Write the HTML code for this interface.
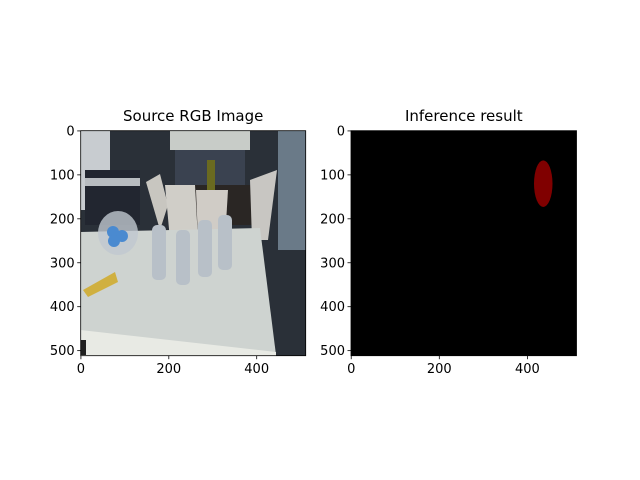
<!DOCTYPE html>
<html><head><meta charset="utf-8"><style>
body{margin:0;background:#fff;}
svg{display:block;font-family:"DejaVu Sans","Liberation Sans",sans-serif;}
</style></head><body>
<svg id="fig" width="640" height="480" viewBox="0 0 640 480">
<rect width="640" height="480" fill="#fff"/>
<g id="left">
 <clipPath id="cl"><rect x="80.7" y="130.7" width="225" height="225"/></clipPath>
 <g clip-path="url(#cl)">
  <rect x="80" y="130" width="227" height="227" fill="#2a3038"/>
  <rect x="80" y="130" width="30" height="80" fill="#c8ccd0"/>
  <rect x="85" y="170" width="55" height="55" fill="#222630"/>
  <rect x="85" y="178" width="55" height="8" fill="#b8bcc0"/>
  <rect x="170" y="130" width="80" height="20" fill="#c8ccc8"/>
  <rect x="175" y="150" width="70" height="40" fill="#3a4250"/>
  <rect x="170" y="185" width="95" height="40" fill="#2a2624"/>
  <polygon points="146,182 160,174 168,205 160,230" fill="#c8c6c0"/>
  <polygon points="165,185 195,185 198,240 170,240" fill="#d0cec8"/>
  <polygon points="196,190 228,190 225,240 198,240" fill="#d0ccc6"/>
  <polygon points="250,180 277,170 268,240 252,240" fill="#c8c6c2"/>
  <rect x="207" y="160" width="8" height="30" fill="#6a6a20"/>
  <rect x="278" y="130" width="30" height="120" fill="#6a7a88"/>
  <polygon points="80,232 260,228 276,355 80,355" fill="#ced3d0"/>
  <polygon points="80,330 276,352 276,357 80,357" fill="#e8eae4"/>
  <rect x="80" y="340" width="6" height="15" fill="#202020"/>
  <ellipse cx="118" cy="233" rx="20" ry="22" fill="#c0c8d0" opacity="0.8"/>
  <circle cx="113" cy="232" r="6" fill="#4a8ad0"/>
  <circle cx="122" cy="236" r="6" fill="#4a8ad0"/>
  <circle cx="114" cy="241" r="6" fill="#4a8ad0"/>
  <polygon points="83,290 115,272 118,282 88,297" fill="#d0b040"/>
  <rect x="152" y="225" width="14" height="55" rx="5" fill="#b8c0c8"/>
  <rect x="176" y="230" width="14" height="55" rx="5" fill="#b8c0c8"/>
  <rect x="198" y="220" width="14" height="57" rx="5" fill="#b8c0c8"/>
  <rect x="218" y="215" width="14" height="55" rx="5" fill="#b8c0c8"/>
 </g>
 <rect x="80.7" y="130.7" width="225" height="225" fill="none" stroke="#000" stroke-width="0.8"/>
</g>
<g id="right">
 <rect x="351" y="130.7" width="225.5" height="225" fill="#000"/>
 <rect x="351" y="130.7" width="225.5" height="225" fill="none" stroke="#000" stroke-width="0.8"/>
</g>
<text x="193.2" y="121" font-size="15" text-anchor="middle">Source RGB Image</text>
<text x="463.8" y="121" font-size="15" text-anchor="middle">Inference result</text>
<g id="axes"></g>
</svg>
<script>
const xTicks=[0,200,400];
const yTicks=[0,100,200,300,400,500];
const blobCenter=[436,120];
const blobRadius=[21,53];
const size=512;
const panels=[{x0:80.7,y0:130.7,w:225},{x0:351,y0:130.7,w:225.5}];
const NS="http://www.w3.org/2000/svg";
const g=document.getElementById('axes');
function sx(p,v){return p.x0+(v+0.5)*p.w/size;}
function sy(p,v){return p.y0+(v+0.5)*225/size;}
function mk(t,a){const e=document.createElementNS(NS,t);for(const k in a)e.setAttribute(k,a[k]);g.appendChild(e);return e;}
panels.forEach((p,i)=>{
 xTicks.forEach(v=>{
  const x=sx(p,v);
  const l=mk('line',{x1:x,x2:x,y1:355.7,y2:359.2,stroke:'#000','stroke-width':0.8});
  
  
  const t=mk('text',{x:x,y:373,'font-size':13,'text-anchor':'middle'});
  t.textContent=v;
  
  
 });
 yTicks.forEach(v=>{
  const y=sy(p,v);
  const l=mk('line',{x1:p.x0-3.5,x2:p.x0,y1:y,y2:y,stroke:'#000','stroke-width':0.8});
  
  
  const t=mk('text',{x:p.x0-6,y:y+4.5,'font-size':13,'text-anchor':'end'});
  t.textContent=v;
  
  
 });
});
const p=panels[1];
const e=mk('ellipse',{cx:sx(p,blobCenter[0]),cy:sy(p,blobCenter[1]),rx:blobRadius[0]*p.w/size,ry:blobRadius[1]*225/size,fill:'#800000'});


</script>
</body></html>
